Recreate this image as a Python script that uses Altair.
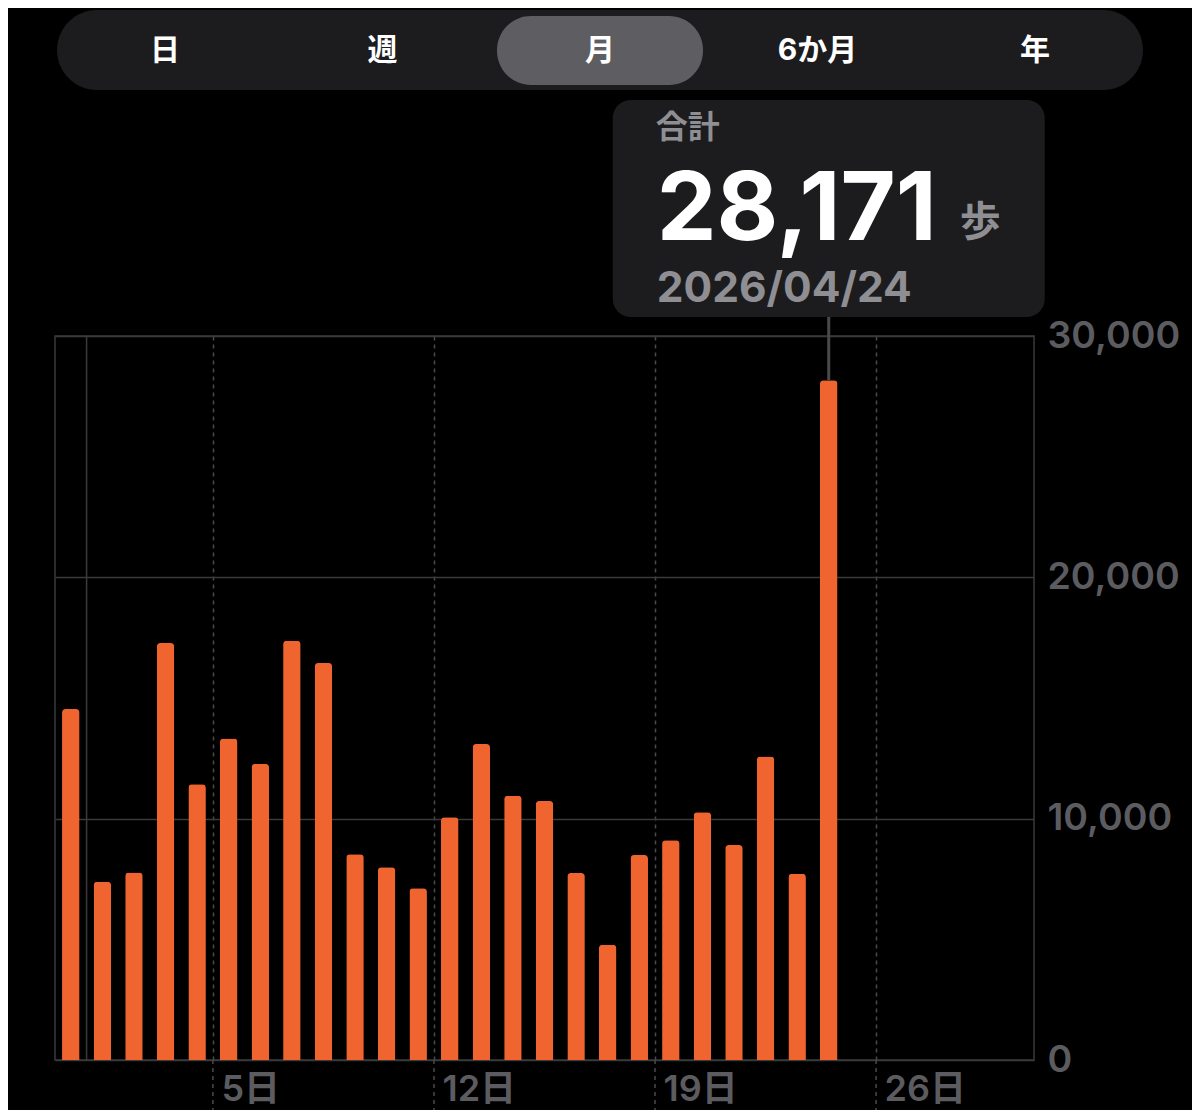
import altair as alt
import pandas as pd

# ---------------- data ----------------
dates = [
    "2026-03-31", "2026-04-01", "2026-04-02", "2026-04-03", "2026-04-04",
    "2026-04-05", "2026-04-06", "2026-04-07", "2026-04-08", "2026-04-09",
    "2026-04-10", "2026-04-11", "2026-04-12", "2026-04-13", "2026-04-14",
    "2026-04-15", "2026-04-16", "2026-04-17", "2026-04-18", "2026-04-19",
    "2026-04-20", "2026-04-21", "2026-04-22", "2026-04-23", "2026-04-24",
]
steps = [
    14540, 7390, 7770, 17280, 11430,
    13320, 12270, 17370, 16450, 8530,
    7990, 7120, 10060, 13090, 10950,
    10730, 7750, 4780, 8490, 9110,
    10270, 8910, 12580, 7720, 28171,
]
y_ticks = [0, 10000, 20000, 30000]
week_marks = [5, 12, 19, 26]
month_start = [1]
segments = ["日", "週", "月", "6か月", "年"]
selected_segment = "月"
tooltip_title = "合計"
tooltip_unit = "歩"
selected_date = "2026-04-24"
view_start = "2026-03-31"
view_days = 31

# ---------------- styling ----------------
ORANGE = "#F0652F"
GRID = "#3a3a3c"
DASH = "#4a4a4d"
AXIS_TXT = "#5c5c60"
BOX = "#1c1c1e"
SEL = "#5e5e62"
SUB_TXT = "#8e8e93"
FONT = "Inter, 'Noto Sans CJK JP', sans-serif"
CJK = "'Noto Sans CJK JP', sans-serif"

start = pd.Timestamp(view_start)
df = pd.DataFrame({"date": pd.to_datetime(dates), "steps": steps})
df["pos"] = (df["date"] - start).dt.days + 0.5
sel = df[df["date"] == pd.Timestamp(selected_date)].copy()
sel["label"] = sel["date"].dt.strftime("%Y/%m/%d")
sel["title"] = tooltip_title
sel["unit"] = tooltip_unit

xscale = alt.Scale(domain=[0, view_days], nice=False, zero=False, padding=0)
yscale = alt.Scale(domain=[y_ticks[0], y_ticks[-1]], nice=False, padding=0)

xaxis = alt.Axis(
    values=week_marks, labelExpr="datum.value + '日'", title=None,
    grid=True, gridDash=[4, 4], gridColor=DASH, gridWidth=1.5,
    ticks=False, domain=False, labelAlign="left", labelOffset=8,
    labelPadding=12, labelFontSize=36, labelFontWeight=600,
    labelColor=AXIS_TXT, labelFont=FONT, labelFlush=False,
)
yaxis = alt.Axis(
    values=y_ticks, format=",d", title=None, orient="right",
    grid=True, gridColor=GRID, gridWidth=1.5, ticks=False, domain=False,
    labelPadding=13, labelFontSize=37.5, labelFontWeight=600,
    labelColor=AXIS_TXT, labelFont=FONT, labelOverlap=False,
)

bars = alt.Chart(df).mark_bar(
    size=17.5, cornerRadiusTopLeft=3.5, cornerRadiusTopRight=3.5, color=ORANGE
).encode(
    x=alt.X("pos:Q", scale=xscale, axis=xaxis),
    y=alt.Y("steps:Q", scale=yscale, axis=yaxis),
)

month_line = alt.Chart(pd.DataFrame({"d": month_start})).mark_rule(
    color=GRID, strokeWidth=1.5
).encode(x=alt.X("d:Q", scale=xscale))

week_ext = alt.Chart(pd.DataFrame({"d": week_marks})).mark_rule(
    color=DASH, strokeWidth=1.5, strokeDash=[4, 4]
).encode(x=alt.X("d:Q", scale=xscale), y=alt.value(724), y2=alt.value(790))

leader = alt.Chart(sel).mark_rule(color="#4a4a4c", strokeWidth=3).encode(
    x=alt.X("pos:Q", scale=xscale),
    y=alt.Y("steps:Q", scale=yscale),
    y2=alt.value(-19),
)

tip_box = alt.Chart(sel).mark_rect(
    color=BOX, cornerRadius=18, xOffset=-216, x2Offset=216
).encode(
    x=alt.X("pos:Q", scale=xscale), x2="pos:Q",
    y=alt.value(-236), y2=alt.value(-19),
)

tip_title = alt.Chart(sel).mark_text(
    align="left", baseline="middle", dx=-173, font=CJK, fontSize=32,
    fontWeight="bold", color=SUB_TXT
).encode(x=alt.X("pos:Q", scale=xscale), y=alt.value(-208), text="title:N")

tip_value = alt.Chart(sel).mark_text(
    align="left", baseline="alphabetic", dx=-172, font=FONT, fontSize=95,
    fontWeight="bold", color="#ffffff"
).encode(x=alt.X("pos:Q", scale=xscale), y=alt.value(-96),
         text=alt.Text("steps:Q", format=",d"))

tip_unit = alt.Chart(sel).mark_text(
    align="left", baseline="middle", dx=131, font=CJK, fontSize=41,
    fontWeight="bold", color=SUB_TXT
).encode(x=alt.X("pos:Q", scale=xscale), y=alt.value(-112), text="unit:N")

tip_date = alt.Chart(sel).mark_text(
    align="left", baseline="alphabetic", dx=-172, font=FONT, fontSize=42.5,
    fontWeight="bold", color=SUB_TXT
).encode(x=alt.X("pos:Q", scale=xscale), y=alt.value(-34), text="label:N")

seg_df = pd.DataFrame({"s": [selected_segment]})
seg_bg = alt.Chart(seg_df).mark_rect(color=BOX, cornerRadius=40).encode(
    x=alt.value(2), x2=alt.value(1088), y=alt.value(-326), y2=alt.value(-246)
)
seg_x0, seg_step = 110, 217.5
si = segments.index(selected_segment)
seg_sel = alt.Chart(seg_df).mark_rect(color=SEL, cornerRadius=34).encode(
    x=alt.value(seg_x0 + si * seg_step - 103),
    x2=alt.value(seg_x0 + si * seg_step + 103),
    y=alt.value(-320), y2=alt.value(-251),
)
seg_labels = []
for i, s in enumerate(segments):
    seg_labels.append(
        alt.Chart(pd.DataFrame({"s": [s]})).mark_text(
            align="center", baseline="middle", font=FONT, fontSize=30,
            fontWeight="bold", color="#ffffff"
        ).encode(x=alt.value(seg_x0 + i * seg_step), y=alt.value(-285), text="s:N")
    )

chart = alt.layer(
    bars, month_line, week_ext, leader, tip_box, tip_title, tip_value,
    tip_unit, tip_date, seg_bg, seg_sel, *seg_labels
).properties(
    width=979, height=724,
    autosize=alt.AutoSizeParams(type="none"),
    padding={"left": 47, "top": 328, "right": 158, "bottom": 50},
).configure(
    background="#000000", font=FONT
).configure_view(
    stroke=GRID, strokeWidth=1.5
)

chart.save("out.html", embed_options={"renderer": "svg", "actions": False})
